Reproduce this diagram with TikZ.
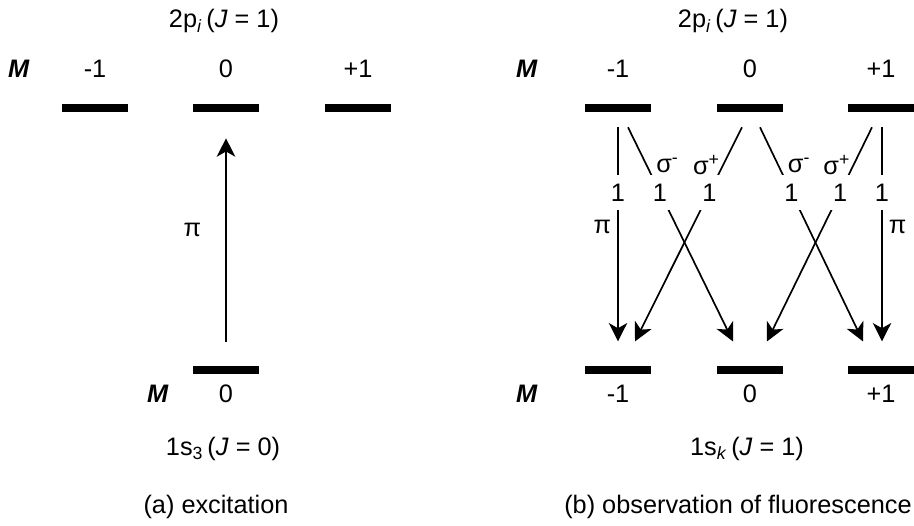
\documentclass[tikz,border=0pt]{standalone}
\usepackage{fontspec}
\setmainfont{Liberation Sans}
\usetikzlibrary{arrows.meta}

\begin{document}
\begin{tikzpicture}[
  font=\fontsize{18}{21}\selectfont,
  level/.style={fill=black, inner sep=0pt, minimum width=1.65cm, minimum height=0.2cm},
  lbl/.style={anchor=base, inner sep=0pt},
  trans/.style={-{Stealth[length=4.6mm, width=4.6mm, inset=1.3mm]}, line width=1.2pt},
  weight/.style={fill=white, inner sep=0pt, minimum width=0.55cm, minimum height=0.875cm},
  pol/.style={inner sep=0pt}
]
\useasboundingbox (0,0) rectangle (22.85,13.125);

% Panel (a): excitation
\node[lbl] (ta) at (5.6, 12.425) {2p\textsubscript{\textit{i}}\,(\textit{J} = 1)};
\node[lbl] (mau) at (0.475, 11.175) {\textbf{\textit{M}}};
\node[lbl] (kam) at (2.375, 11.175) {-1};
\node[lbl] (ka0) at (5.65, 11.175) {0};
\node[lbl] (kap) at (8.95, 11.175) {+1};
\node[level] (uam) at (2.375, 10.425) {};
\node[level] (ua0) at (5.65, 10.425) {};
\node[level] (uap) at (8.95, 10.425) {};

\node[level] (la0) at (5.65, 3.8625) {};
\node[lbl] (mal) at (3.95, 3.075) {\textbf{\textit{M}}};
\node[lbl] (ja0) at (5.65, 3.075) {0};
\node[lbl] (ba) at (5.575, 1.75) {1s\textsubscript{3}\,(\textit{J} = 0)};
\node[lbl] (ca) at (5.4, 0.3) {(a) excitation};

\draw[trans] ([yshift=0.6cm]la0.north) -- node[pos=0.55, left=0.6cm, pol] {π} ([yshift=-0.65cm]ua0.south);

% Panel (b): observation of fluorescence
\begin{scope}
\node[lbl] (tb) at (18.325, 12.425) {2p\textsubscript{\textit{i}}\,(\textit{J} = 1)};
\node[lbl] (mbu) at (13.175, 11.175) {\textbf{\textit{M}}};
\node[lbl] (kbm) at (15.45, 11.175) {-1};
\node[lbl] (kb0) at (18.75, 11.175) {0};
\node[lbl] (kbp) at (22.025, 11.175) {+1};
\node[level] (ubm) at (15.45, 10.425) {};
\node[level] (ub0) at (18.75, 10.425) {};
\node[level] (ubp) at (22.025, 10.425) {};

\node[level] (lbm) at (15.45, 3.8625) {};
\node[level] (lb0) at (18.75, 3.8625) {};
\node[level] (lbp) at (22.025, 3.8625) {};
\node[lbl] (mbl) at (13.175, 3.075) {\textbf{\textit{M}}};
\node[lbl] (jbm) at (15.45, 3.075) {-1};
\node[lbl] (jb0) at (18.75, 3.075) {0};
\node[lbl] (jbp) at (22.025, 3.075) {+1};
\node[lbl] (bb) at (18.675, 1.75) {1s\textsubscript{\textit{k}}\,(\textit{J} = 1)};
\node[lbl] (cb) at (18.45, 0.3) {(b) observation of fluorescence};

% from M = -1
\draw[trans] ([yshift=-0.375cm]ubm.south) -- node[pos=0.304, weight] {1}
  node[pos=0.467, left=0.15cm, pol] {π} ([yshift=0.62cm]lbm.north);
\draw[trans] ([xshift=0.25cm, yshift=-0.375cm]ubm.south) -- node[pos=0.304, weight] {1}
  node[pos=0.178, right=0.22cm, pol] {σ\textsuperscript{-}} ([xshift=-0.425cm, yshift=0.62cm]lb0.north);

% from M = 0
\draw[trans] ([xshift=-0.2cm, yshift=-0.375cm]ub0.south) -- node[pos=0.304, weight] {1}
  node[pos=0.178, left=0.06cm, pol] {σ\textsuperscript{+}} ([xshift=0.425cm, yshift=0.62cm]lbm.north);
\draw[trans] ([xshift=0.25cm, yshift=-0.375cm]ub0.south) -- node[pos=0.304, weight] {1}
  node[pos=0.178, right=0.22cm, pol] {σ\textsuperscript{-}} ([xshift=-0.45cm, yshift=0.62cm]lbp.north);

% from M = +1
\draw[trans] ([xshift=-0.225cm, yshift=-0.375cm]ubp.south) -- node[pos=0.304, weight] {1}
  node[pos=0.178, left=0.06cm, pol] {σ\textsuperscript{+}} ([xshift=0.425cm, yshift=0.62cm]lb0.north);
\draw[trans] ([xshift=0.025cm, yshift=-0.375cm]ubp.south) -- node[pos=0.304, weight] {1}
  node[pos=0.467, right=0.15cm, pol] {π} ([xshift=0.025cm, yshift=0.62cm]lbp.north);
\end{scope}

\end{tikzpicture}
\end{document}
